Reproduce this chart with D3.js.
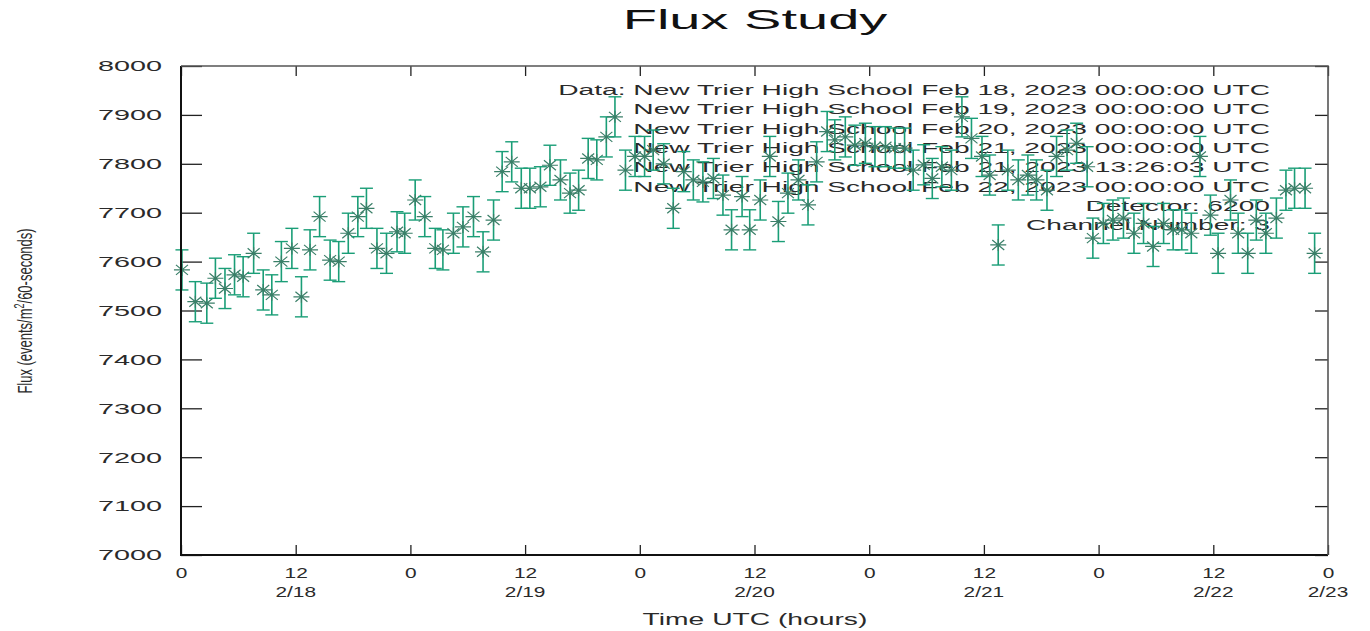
<!DOCTYPE html>
<html><head><meta charset="utf-8">
<script src="https://cdn.jsdelivr.net/npm/d3@7"></script>
<style>
body{margin:0;background:#fff}
svg{display:block;background:#fff}
text{font-family:"Liberation Sans",Arial,sans-serif}
</style>
</head><body>
<svg id="chart" width="1370" height="631"></svg>
<script>
// ---- data (hours since 2023-02-18 00:00 UTC) ----
const hours = [0.1,1.5,2.7,3.6,4.6,5.6,6.5,7.6,8.6,9.5,10.5,11.6,12.6,13.5,14.5,15.6,16.5,17.5,18.5,19.4,
  20.5,21.5,22.6,23.4,24.5,25.5,26.6,27.4,28.5,29.5,30.6,31.6,32.7,33.6,34.6,35.6,36.5,37.6,38.6,39.7,
  40.7,41.6,42.6,43.5,44.5,45.4,46.5,47.5,48.5,49.4,50.5,51.5,52.6,53.6,54.6,55.7,56.7,57.6,58.7,59.5,
  60.6,61.6,62.5,63.5,64.6,65.6,66.5,67.6,68.4,69.5,70.5,71.6,72.6,73.7,74.7,75.7,76.6,77.7,78.6,79.6,
  80.6,81.7,82.7,83.8,84.6,85.5,86.5,87.6,88.6,89.5,90.6,91.6,92.7,93.7,94.8,95.4,96.5,97.5,98.6,99.7,
  100.7,101.7,102.8,103.8,104.7,105.7,106.6,107.7,108.5,109.8,110.6,111.6,112.5,113.5,114.6,115.6,116.5,117.6,118.6];
const flux = [7583,7518,7515,7566,7545,7573,7569,7617,7542,7532,7600,7627,7528,7624,7692,7603,7600,7658,7692,7709,
  7627,7617,7661,7658,7726,7692,7627,7624,7658,7671,7692,7620,7685,7784,7804,7750,7750,7753,7797,7767,
  7740,7746,7811,7808,7855,7896,7787,7815,7815,7828,7800,7709,7784,7767,7763,7770,7736,7665,7733,7665,
  7726,7815,7682,7740,7767,7716,7804,7866,7849,7855,7838,7842,7835,7835,7832,7832,7787,7798,7770,7794,
  7787,7896,7852,7815,7777,7634,7787,7767,7777,7767,7746,7815,7828,7842,7794,7648,7678,7685,7689,7658,
  7678,7631,7678,7665,7665,7658,7815,7695,7617,7726,7658,7617,7685,7658,7689,7746,7750,7750,7617];
const fluxErr = 41;

const yTicks = [7000,7100,7200,7300,7400,7500,7600,7700,7800,7900,8000];
const xTickHours = [0,12,24,36,48,60,72,84,96,108,120];
const xTickLabels = ["0","12","0","12","0","12","0","12","0","12","0"];
const dateTickHours = [12,36,60,84,108,120];
const dateTickLabels = ["2/18","2/19","2/20","2/21","2/22","2/23"];

const titleText = "Flux Study";
const legendLines = [
  "Data: New Trier High School Feb 18, 2023 00:00:00 UTC",
  "New Trier High School Feb 19, 2023 00:00:00 UTC",
  "New Trier High School Feb 20, 2023 00:00:00 UTC",
  "New Trier High School Feb 21, 2023 00:00:00 UTC",
  "New Trier High School Feb 21, 2023 13:26:03 UTC",
  "New Trier High School Feb 22, 2023 00:00:00 UTC",
  "Detector: 6200",
  "Channel Number: 3"
];

// ---- layout ----
const L = 181, R = 1328, T = 66, B = 555;
const svg = d3.select("#chart");
const x = d3.scaleLinear().domain([0,120]).range([L,R]);
const y = d3.scaleLinear().domain([7000,8000]).range([B,T]);
const dataColor = "#1a9e77";
const starColor = "#3a7f68";
const textColor = "#2a2a2a";

function stretch(sel, factor){
  sel.each(function(){
    const w = this.getComputedTextLength();
    this.setAttribute("textLength", w*factor);
    this.setAttribute("lengthAdjust","spacingAndGlyphs");
  });
}

// title
svg.append("text").attr("x",755).attr("y",29).attr("text-anchor","middle")
  .attr("font-size",28).attr("fill","#111").text(titleText).call(stretch,2.0);

// legend / info text (drawn beneath data)
svg.append("g").selectAll("text").data(legendLines).join("text")
  .attr("x",1270).attr("y",(d,i)=>95+i*19.3).attr("text-anchor","end")
  .attr("font-size",14).attr("fill",textColor).text(d=>d).call(stretch,2.01);

// axes ticks
const gl = svg.append("g").attr("transform",`translate(${L},0)`)
  .call(d3.axisLeft(y).tickValues(yTicks).tickSize(-21).tickPadding(19).tickFormat(d3.format("d")));
const gr = svg.append("g").attr("transform",`translate(${R},0)`)
  .call(d3.axisRight(y).tickValues(yTicks).tickSize(-13).tickFormat(""));
const gb = svg.append("g").attr("transform",`translate(0,${B})`)
  .call(d3.axisBottom(x).tickValues(xTickHours).tickSize(-10).tickPadding(13).tickFormat((d,i)=>xTickLabels[i]));
const gt = svg.append("g").attr("transform",`translate(0,${T})`)
  .call(d3.axisTop(x).tickValues(xTickHours).tickSize(-10).tickFormat(""));
[gl,gr,gb,gt].forEach(g=>{
  g.select(".domain").remove();
  g.selectAll(".tick line").attr("stroke","#222").attr("stroke-width",1.3);
});
gl.selectAll(".tick text").attr("font-size",15).attr("fill",textColor)
  .attr("font-family",'"Liberation Sans",Arial,sans-serif').call(stretch,1.92);
gb.selectAll(".tick text").attr("font-size",14).attr("fill",textColor)
  .attr("font-family",'"Liberation Sans",Arial,sans-serif').call(stretch,1.49);

// date row
svg.append("g").selectAll("text").data(dateTickHours).join("text")
  .attr("x",d=>x(d)).attr("y",597).attr("text-anchor","middle")
  .attr("font-size",14).attr("fill",textColor).text((d,i)=>dateTickLabels[i]).call(stretch,1.49);

// axis titles
svg.append("text").attr("x",755).attr("y",625).attr("text-anchor","middle")
  .attr("font-size",17).attr("fill",textColor).text("Time UTC (hours)").call(stretch,1.66);
const yl = svg.append("text").attr("transform","translate(32,311) scale(1.6,1) rotate(-90)")
  .attr("text-anchor","middle").attr("font-size",13).attr("fill",textColor);
yl.append("tspan").text("Flux (events/m");
yl.append("tspan").attr("dy",-5).attr("font-size",9).text("2");
yl.append("tspan").attr("dy",5).text("/60-seconds)");

// data: error bars + asterisk markers
const pts = svg.append("g");
const pt = pts.selectAll("g").data(flux).join("g");
pt.append("line").attr("x1",(d,i)=>x(hours[i])).attr("x2",(d,i)=>x(hours[i]))
  .attr("y1",d=>y(d-fluxErr)).attr("y2",d=>y(d+fluxErr))
  .attr("stroke",dataColor).attr("stroke-width",1.6);
pt.append("line").attr("x1",(d,i)=>x(hours[i])-6.5).attr("x2",(d,i)=>x(hours[i])+6.5)
  .attr("y1",d=>y(d-fluxErr)).attr("y2",d=>y(d-fluxErr))
  .attr("stroke",dataColor).attr("stroke-width",1.4);
pt.append("line").attr("x1",(d,i)=>x(hours[i])-6.5).attr("x2",(d,i)=>x(hours[i])+6.5)
  .attr("y1",d=>y(d+fluxErr)).attr("y2",d=>y(d+fluxErr))
  .attr("stroke",dataColor).attr("stroke-width",1.4);
pt.append("path").attr("transform",(d,i)=>`translate(${x(hours[i])},${y(d)})`)
  .attr("d","M-8,0H8M0,-6V6M-6,-5L6,5M-6,5L6,-5")
  .attr("stroke",starColor).attr("stroke-width",1.2).attr("fill","none");

// border
svg.append("path").attr("d",`M${L},${T}V${B}H${R}`).attr("fill","none").attr("stroke","#111").attr("stroke-width",2);
svg.append("path").attr("d",`M${L},${T}H${R}V${B}`).attr("fill","none").attr("stroke","#555").attr("stroke-width",1.6);
</script>
</body></html>
